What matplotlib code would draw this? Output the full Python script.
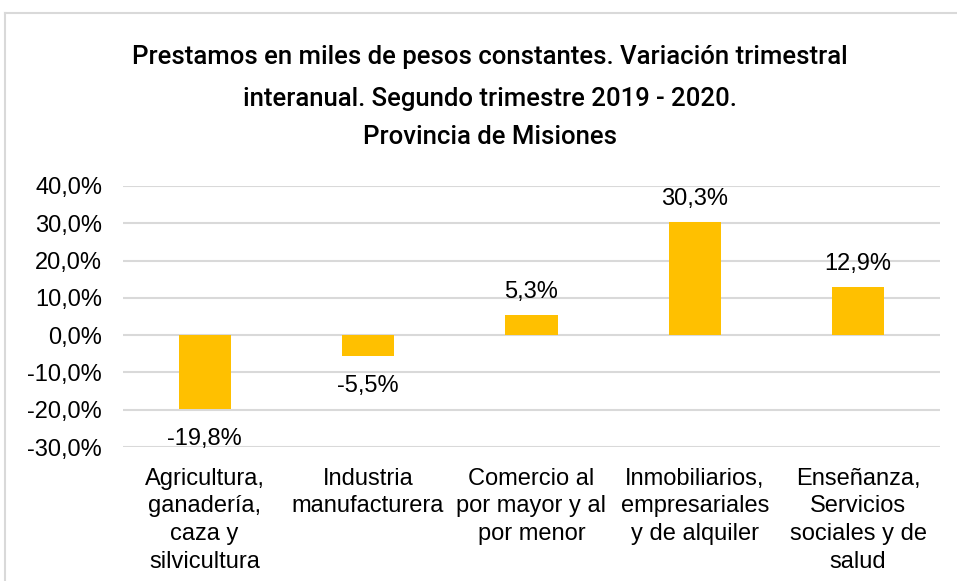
import matplotlib.pyplot as plt
from matplotlib.lines import Line2D
import numpy as np

plt.rcParams['font.family'] = ['Liberation Sans', 'DejaVu Sans']

categories = [
    'Agricultura,\nganadería,\ncaza y\nsilvicultura',
    'Industria\nmanufacturera',
    'Comercio al\npor mayor y al\npor menor',
    'Inmobiliarios,\nempresariales\ny de alquiler',
    'Enseñanza,\nServicios\nsociales y de\nsalud',
]
values = [-19.8, -5.5, 5.3, 30.3, 12.9]
yticks = [-30, -20, -10, 0, 10, 20, 30, 40]

fig = plt.figure(figsize=(9.57, 5.81), dpi=100)
ax = fig.add_axes([0.1285, 0.2306, 0.8535, 0.4494])

x = np.arange(len(categories))
ax.bar(x, values, width=0.32, color='#FFC000', zorder=3)

for xi, v in zip(x, values):
    lab = f'{v:.1f}%'.replace('.', ',')
    if v >= 0:
        ax.annotate(lab, (xi, v), xytext=(0, 9), textcoords='offset points',
                    ha='center', va='bottom', fontsize=17)
    else:
        ax.annotate(lab, (xi, v), xytext=(0, -14), textcoords='offset points',
                    ha='center', va='top', fontsize=17)

ax.set_xlim(-0.5, len(categories) - 0.5)
ax.set_ylim(-30, 40)
ax.set_yticks(yticks)
ax.set_yticklabels([f'{t:.1f}%'.replace('.', ',') for t in yticks], fontsize=17)
ax.set_xticks(x)
ax.set_xticklabels(categories, fontsize=17, linespacing=1.33)
ax.tick_params(axis='y', length=0, pad=15)
ax.tick_params(axis='x', length=0, pad=15)
ax.grid(axis='y', color='#d9d9d9', linewidth=1.5, zorder=0)
for s in ax.spines.values():
    s.set_visible(False)

title_kw = dict(ha='center', va='center', fontsize=18.5, fontweight='medium', family='Roboto')
fig.text(0.512, 0.902, 'Prestamos en miles de pesos constantes. Variación trimestral', **title_kw)
fig.text(0.512, 0.829, 'interanual. Segundo trimestre 2019 - 2020.', **title_kw)
fig.text(0.512, 0.765, 'Provincia de Misiones', **title_kw)

# outer frame (left and top edges visible)
fig.add_artist(Line2D([5 / 957, 5 / 957], [0, 1 - 13 / 581], color='#d9d9d9', lw=1.5))
fig.add_artist(Line2D([5 / 957, 1], [1 - 13 / 581, 1 - 13 / 581], color='#d9d9d9', lw=1.5))

fig.savefig('out.png', dpi=100)
